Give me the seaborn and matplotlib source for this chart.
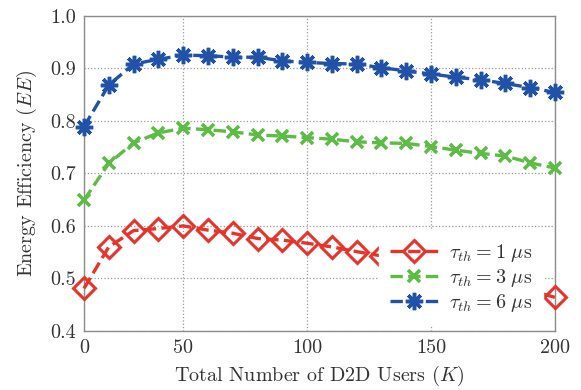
import numpy as np
import pandas as pd
import seaborn as sns
import matplotlib
matplotlib.use("Agg")
import matplotlib.pyplot as plt

# ---- data ----
users_K = [0, 12.5, 25, 37.5, 50, 60, 70, 80, 90, 100, 110, 120, 130, 140, 150,
           160, 170, 180, 190, 200]
ee_tau1 = [0.481, 0.560, 0.591, 0.595, 0.600, 0.592, 0.586, 0.576, 0.573, 0.567,
           0.560, 0.551, 0.543, 0.535, 0.525, 0.515, 0.503, 0.490, 0.477, 0.464]
ee_tau3 = [0.649, 0.719, 0.758, 0.777, 0.786, 0.783, 0.779, 0.773, 0.771, 0.768,
           0.765, 0.760, 0.758, 0.757, 0.751, 0.744, 0.738, 0.733, 0.720, 0.710]
ee_tau6 = [0.789, 0.868, 0.908, 0.917, 0.925, 0.924, 0.921, 0.921, 0.914, 0.911,
           0.909, 0.908, 0.901, 0.895, 0.889, 0.883, 0.878, 0.871, 0.863, 0.854]
series_labels = [r"$\tau_{th}=1\ \mu\mathrm{s}$", r"$\tau_{th}=3\ \mu\mathrm{s}$",
                 r"$\tau_{th}=6\ \mu\mathrm{s}$"]
x_ticks = [0, 50, 100, 150, 200]
y_ticks = [0.4, 0.5, 0.6, 0.7, 0.8, 0.9, 1.0]

sns.set_style("white")
plt.rcParams['font.family'] = ['cmr10', 'DejaVu Serif']
plt.rcParams['mathtext.fontset'] = 'cm'
plt.rcParams['axes.formatter.use_mathtext'] = True

fig = plt.figure(figsize=(5.81, 3.90), dpi=100)
ax = fig.add_axes([84 / 581, 1 - 331 / 390, 471 / 581, (331 - 15.7) / 390])


def fwd(x):
    x = np.asarray(x, dtype=float)
    return np.where(x <= 50, x / 12.5, 4 + (x - 50) / 10.0)


def inv(t):
    t = np.asarray(t, dtype=float)
    return np.where(t <= 4, t * 12.5, 50 + (t - 4) * 10.0)


ax.set_xscale('function', functions=(fwd, inv))

colors = ['#e8322a', '#5dbb46', '#2052a8']
styles = [
    dict(marker='D', markersize=11, markerfacecolor='none', markeredgewidth=2.2),
    dict(marker='x', markersize=9, markeredgewidth=2.6),
    dict(marker=(8, 2, 0), markersize=12.5, markeredgewidth=2.5),
]
for ys, lab, col, st in zip([ee_tau1, ee_tau3, ee_tau6], series_labels, colors, styles):
    sns.lineplot(x=users_K, y=ys, ax=ax, label=lab, color=col,
                 markeredgecolor=col, linestyle='--', dashes=(3, 1.5),
                 linewidth=2.4, clip_on=False, zorder=3, **st)

ax.set_xlim(0, 200)
ax.set_ylim(0.4, 1.0)
ax.set_xticks(x_ticks)
ax.set_xticklabels([str(v) for v in x_ticks])
ax.set_yticks(y_ticks)
ax.set_yticklabels([f"{v:.1f}" for v in y_ticks])
ax.tick_params(direction='in', length=4, color='#808080', labelsize=14.5,
               labelcolor='#333333', top=False, right=False, pad=6)
ax.grid(True, linestyle=':', color='#999999', linewidth=0.9)
for s in ax.spines.values():
    s.set_color('#8c8c8c')
    s.set_linewidth(1.0)

ax.set_xlabel(r"Total Number of D2D Users ($K$)", fontsize=14.5, color='#333333',
              labelpad=5)
ax.set_ylabel(r"Energy Efficiency ($EE$)", fontsize=14.5, color='#333333',
              labelpad=8)

leg = ax.legend(loc='lower right', bbox_to_anchor=(0.9745, 0.019),
                borderaxespad=0, frameon=True, fancybox=False, fontsize=14.5,
                handlelength=2.4, labelspacing=0.15, handletextpad=0.5,
                borderpad=0.55)
leg.get_frame().set_edgecolor('white')
leg.get_frame().set_facecolor('white')
leg.get_frame().set_alpha(1.0)
leg.set_zorder(5)
for t in leg.get_texts():
    t.set_color('#333333')

fig.savefig("out.png", dpi=100)
